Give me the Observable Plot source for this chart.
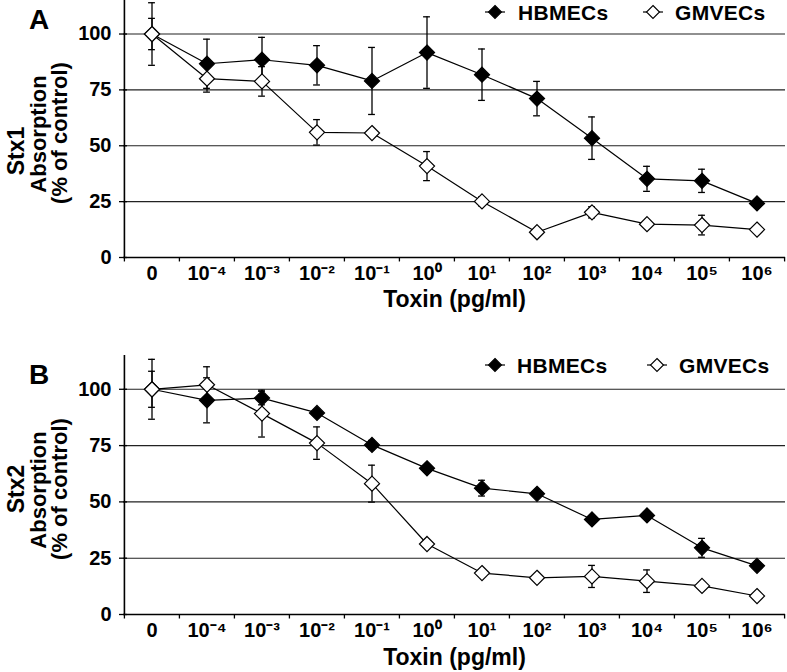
<!DOCTYPE html>
<html>
<head>
<meta charset="utf-8">
<script src="https://cdn.jsdelivr.net/npm/d3@7"></script>
<script src="https://cdn.jsdelivr.net/npm/@observablehq/plot@0.6"></script>
<style>
  body { margin: 0; background: white; }
  #fig { position: relative; width: 787px; height: 672px; font-family: "Liberation Sans", Arial, sans-serif; font-weight: bold; color: black; }
  .pane { position: absolute; left: 0; }
  .letter { position: absolute; font-size: 28px; font-weight: bold; line-height: 1; }
  .leg { position: absolute; font-size: 21px; font-weight: bold; letter-spacing: 0.3px; white-space: nowrap; line-height: 1; }
  .legsym { position: absolute; }
</style>
</head>
<body>
<div id="fig"></div>
<script>
// ---- data ----
const categories = ["0", "10⁻⁴", "10⁻³", "10⁻²", "10⁻¹", "10⁰", "10¹", "10²", "10³", "10⁴", "10⁵", "10⁶"];
const seriesNames = ["HBMECs", "GMVECs"];
const yTicks = [0, 25, 50, 75, 100];

const stx1HBMEC    = [100, 86.7, 88.5, 86.0, 79.0, 91.7, 81.8, 71.1, 53.4, 35.2, 34.3, 24.2];
const stx1HBMECErr = [7, 11, 10, 8.8, 15, 16, 11.5, 7.7, 9.5, 5.6, 5.2, 1.5];
const stx1GMVEC    = [100, 80.0, 78.8, 56.0, 55.7, 40.9, 25.1, 11.3, 20.2, 14.9, 14.5, 12.5];
const stx1GMVECErr = [14, 6, 6.6, 5.7, 1, 6.5, 2, 1.5, 2.5, 1, 4.4, 1.5];

const stx2HBMEC    = [100, 95.1, 96.1, 89.5, 75.3, 64.9, 56.1, 53.6, 42.2, 44.0, 29.6, 21.6];
const stx2HBMECErr = [8, 10, 3, 1.5, 2, 1.5, 3.5, 1, 1, 1.5, 4.2, 1.5];
const stx2GMVEC    = [100, 102, 89.2, 76.1, 58.1, 31.3, 18.4, 16.3, 16.9, 14.8, 12.7, 8.2];
const stx2GMVECErr = [13.3, 8, 10.4, 7.2, 8.2, 1.5, 1.5, 1, 4.9, 5, 1.5, 1];

// ---- layout ----
const W = 787, ML = 123, MR = 2;
const bw = (W - ML - MR) / categories.length;
const fills = {HBMECs: "black", GMVECs: "white"};
const FONT = "'Liberation Sans', Arial, sans-serif";

function panel({hb, hbErr, gm, gmErr, toxin, height, marginTop, marginBottom, xLabelDy, tickPad, stx, dyStx}) {
  const rows = categories.flatMap((c, i) => [
    {cat: c, series: seriesNames[0], v: hb[i], e: hbErr[i]},
    {cat: c, series: seriesNames[1], v: gm[i], e: gmErr[i]}
  ]);
  return Plot.plot({
    width: W, height, marginLeft: ML, marginRight: MR, marginTop, marginBottom,
    style: {fontFamily: FONT, fontWeight: "bold", fontSize: "20px", color: "black", background: "white", overflow: "visible"},
    x: {type: "band", domain: categories, padding: 0},
    y: {domain: [0, 115]},
    marks: [
      Plot.ruleY(yTicks.filter(t => t > 0), {stroke: "#222", strokeWidth: 1.1}),
      Plot.ruleY([0], {stroke: "black", strokeWidth: 1.6}),
      Plot.ruleX([categories[0]], {x: d => d, dx: -bw / 2, y1: 0, y2: 115, stroke: "black", strokeWidth: 1.6}),
      Plot.ruleX(categories, {x: d => d, dx: -bw / 2, y1: 0, y2: -2, stroke: "black", strokeWidth: 1.3}),
      Plot.ruleX([categories[categories.length - 1]], {x: d => d, dx: bw / 2, y1: 0, y2: -2, stroke: "black", strokeWidth: 1.3}),
      Plot.axisY({ticks: yTicks, tickSize: 8, dx: 4, tickFormat: () => "", label: null, stroke: "black", strokeWidth: 1.3}),
      Plot.axisY({ticks: yTicks, tickSize: 0, tickPadding: 12, label: null, fontSize: 20, style: {letterSpacing: "0.4px"}}),
      Plot.axisX({tickSize: 0, tickPadding: tickPad, label: null, fontSize: 20}),
      // error bars
      Plot.ruleX(rows, {x: "cat", y1: d => d.v - d.e, y2: d => d.v + d.e, stroke: "black", strokeWidth: 1.3}),
      Plot.tickY(rows, {x: "cat", y: d => d.v + d.e, insetLeft: bw / 2 - 3.5, insetRight: bw / 2 - 3.5, stroke: "black", strokeWidth: 1.3}),
      Plot.tickY(rows, {x: "cat", y: d => d.v - d.e, insetLeft: bw / 2 - 3.5, insetRight: bw / 2 - 3.5, stroke: "black", strokeWidth: 1.3}),
      // lines + markers
      Plot.line(rows, {x: "cat", y: "v", z: "series", stroke: "black", strokeWidth: 1.2}),
      Plot.dot(rows, {x: "cat", y: "v", symbol: "diamond2", r: 6.8, fill: d => fills[d.series], stroke: "black", strokeWidth: 1.2}),
      // axis titles
      Plot.text([toxin], {frameAnchor: "bottom", lineAnchor: "top", dy: xLabelDy, fontSize: 23, fontWeight: "bold", style: {letterSpacing: "0.5px"}}),
      Plot.text([stx], {frameAnchor: "left", rotate: -90, textAnchor: "middle", lineAnchor: "middle", dx: -107, dy: dyStx, fontSize: 23, fontWeight: "bold"}),
      Plot.text(["Absorption"], {frameAnchor: "left", rotate: -90, textAnchor: "middle", lineAnchor: "middle", dx: -85, dy: 5, fontSize: 22, fontWeight: "bold", style: {letterSpacing: "0.3px"}}),
      Plot.text(["(% of control)"], {frameAnchor: "left", rotate: -90, textAnchor: "middle", lineAnchor: "middle", dx: -64, dy: 4, fontSize: 22, fontWeight: "bold", style: {letterSpacing: "0.3px"}})
    ]
  });
}

const fig = document.getElementById("fig");

function build(opts) {
  const s = panel(opts);
  s.classList.add("pane");
  s.style.top = opts.top + "px";
  fig.appendChild(s);
}

build({hb: stx1HBMEC, hbErr: stx1HBMECErr, gm: stx1GMVEC, gmErr: stx1GMVECErr, toxin: "Toxin (pg/ml)", stx: "Stx1", dyStx: 22,
  top: 0, height: 335, marginTop: 0, marginBottom: 78, xLabelDy: 33, tickPad: 8});
build({hb: stx2HBMEC, hbErr: stx2HBMECErr, gm: stx2GMVEC, gmErr: stx2GMVECErr, toxin: "Toxin (pg/ml)", stx: "Stx2", dyStx: 4,
  top: 335, height: 337, marginTop: 20, marginBottom: 58, xLabelDy: 34, tickPad: 8});

// panel letters
[["A", 29, 6], ["B", 29, 361]].forEach(([t, l, tp]) => {
  const d = document.createElement("div");
  d.className = "letter"; d.textContent = t; d.style.left = l + "px"; d.style.top = tp + "px";
  fig.appendChild(d);
});

// legends
function legendItem(name, cx, cy, textLeft) {
  const ns = "http://www.w3.org/2000/svg";
  const s = document.createElementNS(ns, "svg");
  s.setAttribute("width", 24); s.setAttribute("height", 18);
  s.setAttribute("class", "legsym");
  s.style.left = (cx - 12) + "px"; s.style.top = (cy - 9) + "px";
  const ln = document.createElementNS(ns, "line");
  ln.setAttribute("x1", 2); ln.setAttribute("x2", 22); ln.setAttribute("y1", 9); ln.setAttribute("y2", 9);
  ln.setAttribute("stroke", "black"); ln.setAttribute("stroke-width", 1.2);
  const p = document.createElementNS(ns, "path");
  p.setAttribute("d", "M12,2.5L18.5,9L12,15.5L5.5,9Z");
  p.setAttribute("fill", fills[name]); p.setAttribute("stroke", "black"); p.setAttribute("stroke-width", 1.1);
  s.appendChild(ln); s.appendChild(p);
  fig.appendChild(s);
  const t = document.createElement("div");
  t.className = "leg"; t.textContent = name;
  t.style.left = textLeft + "px"; t.style.top = (cy - 10) + "px";
  fig.appendChild(t);
}
legendItem(seriesNames[0], 495, 12, 518);
legendItem(seriesNames[1], 653, 12, 675);
legendItem(seriesNames[0], 495, 365, 517);
legendItem(seriesNames[1], 657, 365, 679);
</script>
</body>
</html>
